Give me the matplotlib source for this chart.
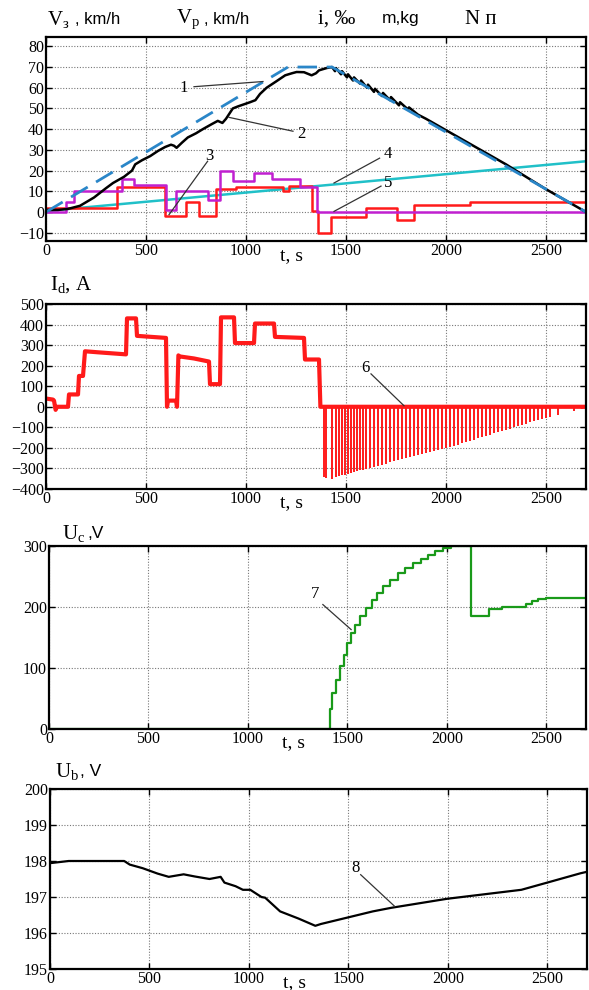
import numpy as np
import matplotlib
matplotlib.use('Agg')
import matplotlib.pyplot as plt

plt.rcParams['font.family'] = ['Liberation Serif', 'DejaVu Serif']
plt.rcParams['mathtext.fontset'] = 'custom'
plt.rcParams['mathtext.rm'] = 'Liberation Serif'
plt.rcParams['mathtext.it'] = 'Liberation Serif:italic'

W, H = 589, 990

# ---- панель 1: скорости, уклон, масса ----
vp_t = [0, 1210, 1430, 2700]
vp_v = [0, 70, 70, 0]

v3_t = [0, 60, 110, 170, 240, 300, 335, 390, 430, 446, 480, 521, 560, 596, 625, 640, 653, 680, 709,
        750, 784, 830, 859, 882, 900, 934, 960, 990, 1020, 1047, 1070, 1103, 1150, 1196, 1230, 1253,
        1290, 1328, 1350, 1365, 1403, 1430,
        1445, 1450, 1475, 1480, 1505, 1510, 1535, 1540, 1570, 1575, 1605, 1610, 1640, 1645, 1680,
        1685, 1720, 1725, 1765, 1770, 1810, 1815, 1860, 1900, 2000, 2100, 2200, 2300, 2400, 2500,
        2600, 2700]
v3_v = [1, 1, 1.5, 3, 7, 11.5, 14, 17, 20, 23, 25, 27, 29.5, 31.4, 32.5, 32, 31, 33.5, 36,
        38, 40, 42.5, 44, 43, 45, 50, 51, 52, 53, 54, 57, 60, 63, 66, 67, 67.6,
        67.5, 66, 67, 68.4, 69.5, 70,
        68, 69.5, 66.5, 68, 65, 66.5, 63.5, 65, 62, 63.5, 60, 61.5, 58, 59.5, 56,
        57.5, 54, 55.5, 51.5, 53, 49.5, 50.5, 47, 45, 39.5, 34, 28.5, 23, 17, 11,
        5.5, 0]

mag_t = [0, 100, 140, 380, 440, 600, 650, 810, 870, 935, 1040, 1130, 1270, 1355, 2700]
mag_v = [0, 5, 10, 16, 13, 1, 10, 6, 20, 15, 19, 16, 12, 0, 0]

slope_t = [0, 353, 596, 700, 765, 850, 950, 1187, 1215, 1330, 1360, 1425, 1600, 1755, 1838, 2120, 2700]
slope_v = [2, 12, -2, 5, -2, 11, 12, 10, 12.5, 0.5, -10, -2.5, 2, -3.7, 3.2, 5, 5]

mass_t = [0, 2700]
mass_v = [0.5, 24.5]

# ---- панель 2: ток Id ----
id_t = [0, 35, 40, 48, 55, 110, 115, 160, 165, 185, 195, 260, 330, 400, 405, 450, 455, 600,
        605, 610, 650, 655, 662, 668, 740, 815, 820, 870, 875, 940, 945, 1040, 1045, 1140, 1145,
        1290, 1295, 1365, 1372, 2700]
id_v = [40, 35, 30, -15, 0, 0, 60, 60, 150, 150, 270, 265, 260, 255, 430, 430, 345, 335,
        0, 30, 30, 0, 250, 245, 235, 220, 110, 110, 435, 435, 310, 310, 405, 405, 340,
        335, 230, 230, 0, 0]

spike_t = [1390, 1400, 1430, 1450, 1465, 1480, 1495, 1510, 1525, 1540, 1555, 1570, 1585, 1600,
           1620, 1640, 1660, 1680, 1700, 1720,
           1740, 1760, 1780, 1800, 1820, 1840, 1860, 1880, 1900, 1920, 1940, 1960, 1980, 2000,
           2020, 2040, 2060, 2080, 2100, 2120, 2140, 2160, 2180, 2200, 2220, 2240, 2260, 2280,
           2300, 2320, 2340, 2360, 2380, 2400, 2420, 2440, 2460, 2480, 2500, 2520, 2560, 2640, 2680]
spike_v = [-340, -345, -350, -342, -338, -334, -330, -326, -322, -318, -314, -310, -306, -302,
           -297, -292, -287, -282, -276, -271,
           -266, -261, -256, -250, -245, -240, -235, -230, -225, -220, -215, -209, -204, -199,
           -194, -189, -184, -178, -172, -166, -160, -154, -148, -142, -136, -130, -124, -118,
           -112, -106, -100, -94, -88, -82, -76, -70, -65, -60, -55, -50, -40, -20, -10]

# ---- панель 3: Uc ----
uc_t = [0, 1406, 1411, 1425, 1443, 1462, 1481, 1500, 1519, 1538, 1566, 1594, 1623, 1651, 1679,
        1717, 1755, 1792, 1830, 1868, 1906, 1943, 1981, 2019, 2120, 2210, 2280, 2400, 2430,
        2460, 2500, 2700]
uc_v = [0, 0, 32, 59, 81, 103, 122, 141, 157, 171, 185, 198, 212, 223, 234,
        245, 256, 264, 272, 279, 286, 291, 296, 300, 185, 197, 200, 205, 210,
        213, 215, 215]

# ---- панель 4: Ub ----
ub_t = [0, 94, 224, 373, 401, 466, 541, 597, 672, 728, 802, 858, 877, 933, 970, 1007, 1063,
        1082, 1157, 1250, 1334, 1362, 1474, 1623, 1716, 1996, 2370, 2500, 2668, 2700]
ub_v = [197.94, 198.0, 198.0, 198.0, 197.9, 197.8, 197.65, 197.56, 197.63, 197.57, 197.5,
        197.56, 197.4, 197.3, 197.2, 197.2, 197.0, 196.98, 196.6, 196.4, 196.2, 196.25, 196.4,
        196.6, 196.7, 196.95, 197.2, 197.4, 197.66, 197.7]

xticks = [0, 500, 1000, 1500, 2000, 2500]


def px_axes(left, right, top, bottom):
    return [left / W, 1 - bottom / H, (right - left) / W, (bottom - top) / H]


def style(ax, ylim, yticks):
    ax.set_xlim(0, 2700)
    ax.set_ylim(*ylim)
    ax.set_xticks(xticks)
    ax.set_yticks(yticks)
    ax.grid(True, color='#777777', linestyle=(0, (1, 1.5)), linewidth=0.8)
    ax.tick_params(direction='in', top=True, right=True, length=4, width=1,
                   labelsize=11.5, pad=1.5)
    for s in ax.spines.values():
        s.set_linewidth(1.6)
    ax.text(1230, -0.03, 't, s', transform=ax.get_xaxis_transform(), ha='center',
            va='top', fontsize=14)


def leader(ax, label, txy, p0, p1):
    ax.text(txy[0], txy[1], label, fontsize=12, ha='center', va='center')
    ax.plot([p0[0], p1[0]], [p0[1], p1[1]], color='#333333', lw=0.9)


def ftext(x, y, s, size, family=None):
    kw = {}
    if family:
        kw['family'] = family
    fig.text(x / W, 1 - y / H, s, fontsize=size, ha='left', va='center', **kw)


fig = plt.figure(figsize=(W / 100, H / 100), dpi=100)

# panel 1
ax1 = fig.add_axes(px_axes(46, 586, 37, 241))
ax1.plot(mass_t, mass_v, color='#20c0c8', lw=1.8)
ax1.step(slope_t, slope_v, where='post', color='#ff1a1a', lw=1.8)
ax1.step(mag_t, mag_v, where='post', color='#c020d0', lw=1.8)
ax1.plot(v3_t, v3_v, color='black', lw=1.8)
ax1.plot(vp_t, vp_v, color='#2a86c8', lw=2, dashes=(7, 3.5))
style(ax1, (-14, 84.5), [-10, 0, 10, 20, 30, 40, 50, 60, 70, 80])
leader(ax1, '1', (690, 60), (740, 60.5), (1085, 63))
leader(ax1, '2', (1275, 37.5), (1235, 39), (915, 45.7))
leader(ax1, '3', (815, 27), (808, 24.5), (615, -1.3))
leader(ax1, '4', (1710, 28), (1668, 26), (1440, 14))
leader(ax1, '5', (1710, 14), (1675, 12.5), (1440, 0.3))

ftext(47, 19, r'$\mathregular{V_{з}}$', 15)
ftext(75, 19, ', km/h', 12, 'Liberation Sans')
ftext(176, 19, r'$\mathregular{V_{p}}$', 15)
ftext(204, 19, ', km/h', 12, 'Liberation Sans')
ftext(318, 19, 'i, ‰', 15)
ftext(382, 19, 'm,kg', 12.5, 'Liberation Sans')
ftext(465, 19, 'N п', 15)

# panel 2
ax2 = fig.add_axes(px_axes(46, 586, 304, 489))
ax2.vlines(spike_t, spike_v, 0, color='#ff1a1a', lw=1.4)
ax2.plot(id_t, id_v, color='#ff1a1a', lw=3)
ax2.plot([1372, 2700], [0, 0], color='#ff1a1a', lw=1.5)
style(ax2, (-400, 500), [-400, -300, -200, -100, 0, 100, 200, 300, 400, 500])
leader(ax2, '6', (1595, 190), (1625, 160), (1790, 5))
ftext(50, 285, r'$\mathregular{I_{d}}$, A', 15)

# panel 3
ax3 = fig.add_axes(px_axes(49, 586, 546, 729))
ax3.step(uc_t, uc_v, where='post', color='#1a9a1a', lw=1.6)
style(ax3, (0, 300), [0, 100, 200, 300])
leader(ax3, '7', (1340, 222), (1377, 204), (1519, 163))
ftext(62, 533, r'$\mathregular{U_{c}}$', 15)
ftext(87, 533, ',V', 12.5, 'Liberation Sans')

# panel 4
ax4 = fig.add_axes(px_axes(50, 587, 789, 969))
ax4.plot(ub_t, ub_v, color='black', lw=1.6)
style(ax4, (195, 200), [195, 196, 197, 198, 199, 200])
leader(ax4, '8', (1534, 197.8), (1562, 197.62), (1733, 196.74))
ftext(55, 771, r'$\mathregular{U_{b}}$', 15)
ftext(80, 771, ', V', 12.5, 'Liberation Sans')

fig.savefig('out.png', dpi=100)
